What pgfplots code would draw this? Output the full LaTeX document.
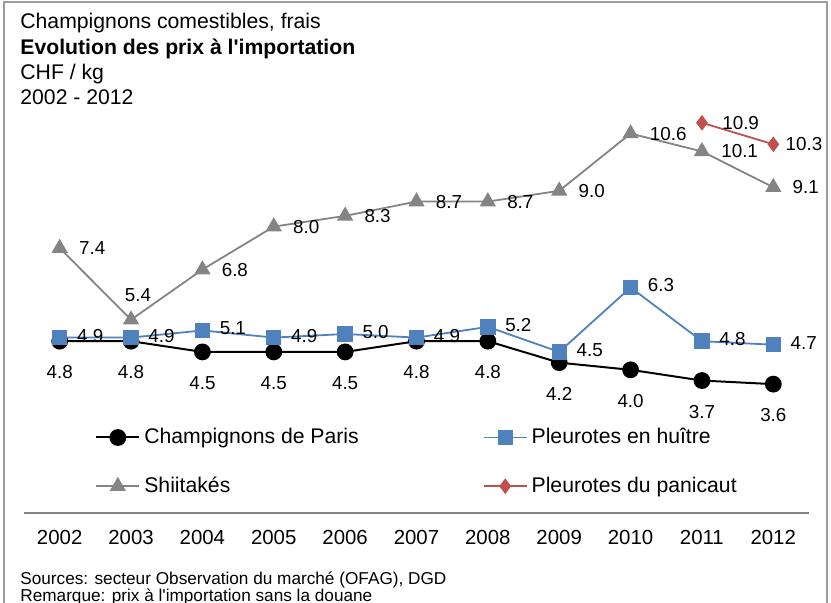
\documentclass[border=0pt]{standalone}
\usepackage{fontspec}
\setmainfont{Liberation Sans}
\usepackage{pgfplots}
\pgfplotsset{compat=1.18}

\definecolor{cparis}{HTML}{000000}
\definecolor{cpleur}{HTML}{4F81BD}
\definecolor{cshii}{HTML}{848484}
\definecolor{cpani}{HTML}{C0504D}
\definecolor{cframe}{HTML}{9C9C9C}

\begin{document}
\fontsize{10.6}{12.7}\selectfont
\begin{tikzpicture}
\path[use as bounding box] (0,0) rectangle (415.5pt,-301pt);
\draw[cframe, line width=1pt] (2pt,-1pt) rectangle (413.5pt,-330pt);

% titles
\node[anchor=base west, inner sep=0] at (10pt,-14pt) {Champignons comestibles, frais};
\node[anchor=base west, inner sep=0] at (10pt,-27pt) {\bfseries Evolution des prix à l\textquotesingle importation};
\node[anchor=base west, inner sep=0] at (10pt,-39.7pt) {CHF / kg};
\node[anchor=base west, inner sep=0] at (10pt,-52.2pt) {2002 - 2012};

\begin{axis}[
    at={(12pt,-256.5pt)}, anchor=south west,
    scale only axis, width=392.5pt, height=214.8pt,
    xmin=2001.5, xmax=2012.5, ymin=0, ymax=12,
    axis x line*=bottom, axis y line=none,
    x axis line style={draw=cshii, line width=1pt},
    xtick={2002,...,2012},
    xticklabels={2002,2003,2004,2005,2006,2007,2008,2009,2010,2011,2012},
    major tick length=0pt,
    xticklabel style={anchor=base, yshift=-15.5pt, font=\fontsize{10.2}{12}\selectfont},
    clip=false,
    legend columns=2,
    legend cell align=left,
    legend style={at={(0.0904,0.119)}, anchor=west, draw=none, fill=none,
        inner sep=0pt, row sep=11pt,
        /tikz/every even column/.append style={column sep=60pt}},
    legend image code/.code={\draw[mark repeat=2,mark phase=2]
        plot coordinates {(0pt,0pt)(10.75pt,0pt)(21.5pt,0pt)};},
    nodes near coords={\pgfmathprintnumber[fixed,fixed zerofill,precision=1,assume math mode=true]{\pgfplotspointmeta}},
    every node near coord/.append style={font=\fontsize{9.4}{11}\selectfont},
    lblright/.style={draw=none, forget plot,
        every node near coord/.append style={anchor=west, inner sep=0pt, xshift=#1, text=black}},
]

% Champignons de Paris
\addplot[cparis, line width=1pt, mark=*, mark size=3.7pt,
    every node near coord/.append style={anchor=center, inner sep=0pt, yshift=-15.5pt, text=black}]
coordinates {(2002,4.8) (2003,4.8) (2004,4.5) (2005,4.5) (2006,4.5) (2007,4.8)
             (2008,4.8) (2009,4.2) (2010,4.0) (2011,3.7) (2012,3.6)};
\addlegendentry{Champignons de Paris}

% Pleurotes en huitre
\addplot[cpleur, line width=0.9pt, mark=square*, mark size=3.4pt, nodes near coords={}]
coordinates {(2002,4.9) (2003,4.9) (2004,5.1) (2005,4.9) (2006,5.0) (2007,4.9)
             (2008,5.2) (2009,4.5) (2010,6.3) (2011,4.8) (2012,4.7)};
\addlegendentry{Pleurotes en huître}

% Shiitakes
\addplot[cshii, line width=0.9pt, mark=triangle*, mark size=3.8pt, nodes near coords={}]
coordinates {(2002,7.4) (2003,5.4) (2004,6.8) (2005,8.0) (2006,8.3) (2007,8.7)
             (2008,8.7) (2009,9.0) (2010,10.6) (2011,10.1) (2012,9.1)};
\addlegendentry{Shiitakés}

% Pleurotes du panicaut
\addplot[cpani, line width=0.9pt, mark=diamond*, mark size=3.2pt, nodes near coords={}]
coordinates {(2011,10.9) (2012,10.3)};
\addlegendentry{Pleurotes du panicaut}

% value labels
\addplot[lblright=8.5pt, every node near coord/.append style={yshift=1pt}]
coordinates {(2002,4.9) (2003,4.9) (2004,5.1) (2005,4.9) (2006,5.0) (2007,4.9)
             (2008,5.2) (2009,4.5) (2010,6.3) (2011,4.8) (2012,4.7)};
\addplot[lblright=9.5pt]
coordinates {(2002,7.4) (2004,6.8) (2005,8.0) (2006,8.3) (2007,8.7)
             (2008,8.7) (2009,9.0) (2010,10.6) (2011,10.1) (2012,9.1)};
\addplot[draw=none, forget plot,
    every node near coord/.append style={anchor=center, inner sep=0pt, xshift=3.5pt, yshift=12.5pt, text=black}]
coordinates {(2003,5.4)};
\addplot[lblright=10pt] coordinates {(2011,10.9)};
\addplot[lblright=6pt] coordinates {(2012,10.3)};
\end{axis}

% notes
\node[anchor=base west, inner sep=0, font=\fontsize{8.6}{10}\selectfont] at (10pt,-292pt) {Sources: secteur Observation du marché (OFAG), DGD};
\node[anchor=base west, inner sep=0, font=\fontsize{8.6}{10}\selectfont] at (10pt,-300.5pt) {Remarque: prix à l\textquotesingle importation sans la douane};
\end{tikzpicture}
\end{document}
